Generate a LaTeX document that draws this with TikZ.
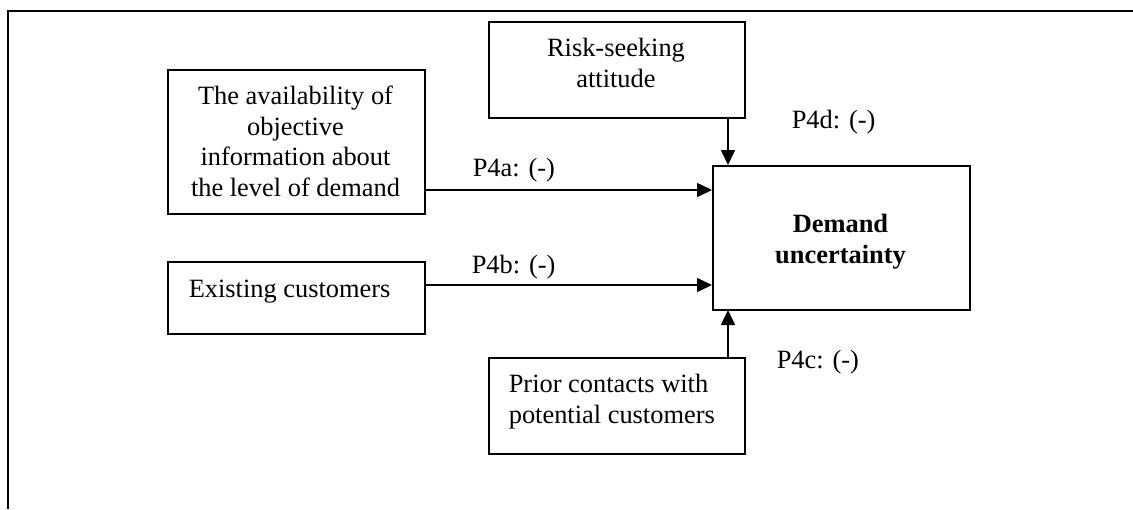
\documentclass[tikz,border=0pt]{standalone}
\usepackage{fontspec}
\setmainfont{Liberation Serif}
\usetikzlibrary{arrows.meta,calc}
\begin{document}
\begin{tikzpicture}[x=1pt,y=-1pt,
  line width=1.6pt,
  box/.style={draw, rectangle, inner sep=0pt, anchor=north west},
  txt/.style={inner sep=0pt, font=\fontsize{26.4}{30.5}\selectfont},
  lbl/.style={txt, anchor=base west},
  link/.style={-{Triangle[length=15pt,width=14pt]}}]
  \useasboundingbox (0,0) rectangle (1133,509);

  % open frame: top and left edges only
  \coordinate (fbl) at (8,509);
  \coordinate (ftl) at (8,11);
  \coordinate (ftr) at (1133,11);
  \draw (fbl) -- (ftl) -- (ftr);

  % boxes
  \node[box, minimum width=257pt, minimum height=144pt] (avail) at (167,69) {};
  \node[box, minimum width=256pt, minimum height=96pt] (risk) at (488,21) {};
  \node[box, minimum width=257pt, minimum height=144pt] (dem) at (712,165) {};
  \node[box, minimum width=257pt, minimum height=72pt] (exist) at (167,261) {};
  \node[box, minimum width=256pt, minimum height=96pt] (prior) at (488,357) {};

  % box texts
  \node[txt, align=center] (availtxt) at (295.5,141.5)
    {The availability of\\objective\\information about\\the level of demand};
  \node[txt, align=center] (risktxt) at (616,63) {Risk-seeking\\attitude};
  \node[txt, align=center, font=\fontsize{26.4}{30.5}\selectfont\bfseries] (demtxt) at (840.5,241.5)
    {Demand\\uncertainty};
  \node[lbl] (existtxt) at (188,297) {Existing customers};
  \node[txt, align=left, anchor=west] (priortxt) at (508,401.5)
    {Prior contacts with\\potential customers};

  % connectors
  \coordinate (ina) at (dem.west |- 0,190);
  \coordinate (inb) at (dem.west |- 0,285);
  \coordinate (ind) at (728,165);
  \coordinate (inc) at (728,310);
  \draw[link] (avail.east |- ina) -- (ina);
  \draw[link] (exist.east |- inb) -- (inb);
  \draw[link] (risk.south -| ind) -- (ind);
  \draw[link] (prior.north -| inc) -- (inc);

  % path labels
  \node[lbl] (la) at (472,176) {P4a: (-)};
  \node[lbl] (lb) at (471,273) {P4b: (-)};
  \node[lbl] (lc) at (776,368) {P4c: (-)};
  \node[lbl] (ld) at (791,128) {P4d: (-)};
\end{tikzpicture}
\end{document}
